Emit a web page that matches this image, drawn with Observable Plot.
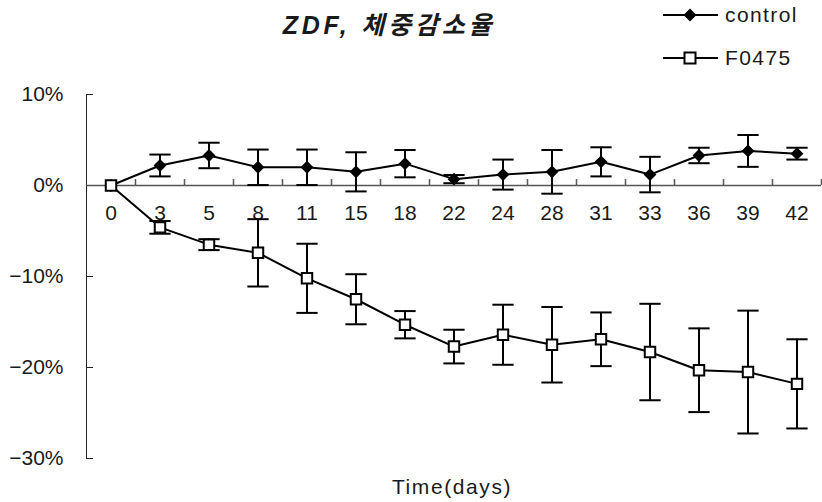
<!DOCTYPE html>
<html>
<head>
<meta charset="utf-8">
<script src="https://cdn.jsdelivr.net/npm/d3@7"></script>
<script src="https://cdn.jsdelivr.net/npm/@observablehq/plot@0.6"></script>
<style>
  html, body { margin: 0; padding: 0; background: #fff; }
  #wrap { position: relative; width: 822px; height: 502px; font-family: "Liberation Sans", Arial, sans-serif; color: #1a1a1a; }
  #chart { position: absolute; left: 0; top: 0; }
  .title { position: absolute; left: 389px; top: 23px; transform: translate(-50%, -50%); font-size: 25px; font-style: italic; font-weight: 600; letter-spacing: 3.8px; font-family: "Liberation Sans", "Noto Sans CJK KR", sans-serif; white-space: nowrap; }
  .leg { position: absolute; left: 663px; height: 20px; display: flex; align-items: center; font-size: 21px; letter-spacing: 1.4px; white-space: nowrap; }
  .leg svg { margin-right: 6px; }
  .xlabel { position: absolute; left: 452px; top: 487px; transform: translate(-50%, -50%); font-size: 21px; letter-spacing: 1.6px; white-space: nowrap; }
</style>
</head>
<body>
<div id="wrap">
  <div id="chart"></div>
  <div class="title">ZDF, 체중감소율</div>
  <div class="leg" style="top:5px"><svg width="56" height="16"><line x1="0" y1="8" x2="55" y2="8" stroke="#000" stroke-width="2"/><path d="M27,1.5 L33.5,8 L27,14.5 L20.5,8 Z" fill="#000"/></svg><span id="l1"></span></div>
  <div class="leg" style="top:48px"><svg width="56" height="16"><line x1="0" y1="8" x2="55" y2="8" stroke="#000" stroke-width="2"/><rect x="21.5" y="2.5" width="11" height="11" fill="#fff" stroke="#000" stroke-width="2"/></svg><span id="l2"></span></div>
  <div class="xlabel">Time(days)</div>
</div>
<script>
const days = ["0","3","5","8","11","15","18","22","24","28","31","33","36","39","42"];
const seriesNames = ["control", "F0475"];
const controlMean = [0, 2.2, 3.3, 2.0, 2.0, 1.5, 2.4, 0.7, 1.2, 1.5, 2.6, 1.2, 3.3, 3.8, 3.5];
const controlSD   = [0, 1.2, 1.4, 1.95, 1.95, 2.15, 1.5, 0.45, 1.65, 2.4, 1.6, 1.95, 0.85, 1.75, 0.65];
const f0475Mean   = [0, -4.6, -6.5, -7.4, -10.2, -12.5, -15.3, -17.7, -16.4, -17.5, -16.9, -18.3, -20.3, -20.5, -21.8];
const f0475SD     = [0, 0.7, 0.6, 3.7, 3.8, 2.75, 1.5, 1.85, 3.3, 4.15, 2.95, 5.3, 4.6, 6.75, 4.9];
const yTicks = [-30, -20, -10, 0, 10];

document.getElementById("l1").textContent = seriesNames[0];
document.getElementById("l2").textContent = seriesNames[1];

const idx = days.map((d, i) => i);
const ctrl = idx.map(i => ({i, m: controlMean[i], lo: controlMean[i] - controlSD[i], hi: controlMean[i] + controlSD[i], sd: controlSD[i]}));
const f04 = idx.map(i => ({i, m: f0475Mean[i], lo: f0475Mean[i] - f0475SD[i], hi: f0475Mean[i] + f0475SD[i], sd: f0475SD[i]}));
const bounds = idx.map(i => i + 0.5);

const cap = { draw(ctx, size) { const w = Math.sqrt(size); ctx.moveTo(-w, 0); ctx.lineTo(w, 0); } };
const fmt = d => (d < 0 ? "\u2212" : "") + Math.abs(d) + "%";

const errMarks = (data) => [
  Plot.ruleX(data.filter(d => d.sd > 0), {x: "i", y1: "lo", y2: "hi", stroke: "#000", strokeWidth: 2}),
  Plot.dot(data.filter(d => d.sd > 0), {x: "i", y: "hi", symbol: cap, r: 6, stroke: "#000", strokeWidth: 2}),
  Plot.dot(data.filter(d => d.sd > 0), {x: "i", y: "lo", symbol: cap, r: 6, stroke: "#000", strokeWidth: 2})
];

const chart = Plot.plot({
  width: 822,
  height: 502,
  marginTop: 94,
  marginBottom: 44,
  marginLeft: 86,
  marginRight: 1,
  style: {fontFamily: "'Liberation Sans', Arial, sans-serif", fontSize: "21px", color: "#1a1a1a", background: "transparent"},
  x: {type: "linear", domain: [-0.5, days.length - 0.5], axis: null},
  y: {domain: [-30, 10], axis: null},
  marks: [
    Plot.axisY(yTicks, {tickSize: 0, tickPadding: 23, tickFormat: fmt, fontSize: 21}),
    Plot.axisY(yTicks, {tickSize: -7, tickFormat: () => "", stroke: "#222"}),
    Plot.ruleX([-0.5], {stroke: "#222", strokeWidth: 1}),
    Plot.ruleY([0], {stroke: "#555", strokeWidth: 1.5}),
    Plot.ruleX(bounds, {x: d => d, y1: 0, y2: 0.65, stroke: "#555", strokeWidth: 1.5}),
    Plot.text(idx, {x: d => d, y: () => 0, text: d => days[d], dy: 28, fontSize: 21, fill: "#1a1a1a"}),
    ...errMarks(ctrl),
    Plot.line(ctrl, {x: "i", y: "m", stroke: "#000", strokeWidth: 2}),
    Plot.dot(ctrl, {x: "i", y: "m", symbol: "diamond2", r: 5.8, fill: "#000", stroke: "none"}),
    ...errMarks(f04),
    Plot.line(f04, {x: "i", y: "m", stroke: "#000", strokeWidth: 2}),
    Plot.dot(f04, {x: "i", y: "m", symbol: "square", r: 5.9, fill: "#fff", stroke: "#000", strokeWidth: 2})
  ]
});
document.getElementById("chart").appendChild(chart);
</script>
</body>
</html>
